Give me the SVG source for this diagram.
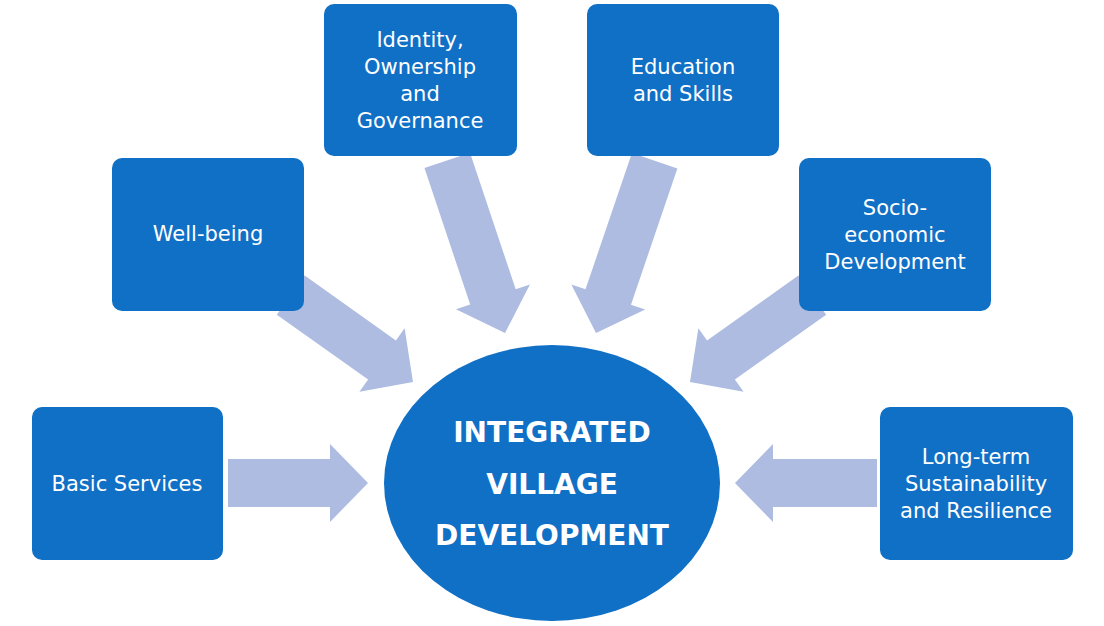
<svg xmlns="http://www.w3.org/2000/svg" width="1104" height="626" viewBox="0 0 1104 626">
<style>
.box{fill:#1070C6;}
.arr{fill:#ADBCE0;}
.t{font-family:"DejaVu Sans","Liberation Sans",sans-serif;font-size:21px;fill:#fff;text-anchor:middle;}
.c{font-family:"DejaVu Sans","Liberation Sans",sans-serif;font-size:28px;font-weight:bold;fill:#fff;text-anchor:middle;}
</style>
<defs>
<polygon id="a" points="-1,-24 -38,-24 -38,-39 0,0 -38,39 -38,24 -1,24"/>
</defs>
<rect width="1104" height="626" fill="#fff"/>
<g id="connectors" class="arr">
<polygon points="-140,-24 -38,-24 -38,-39 0,0 -38,39 -38,24 -140,24" transform="translate(368,483)"/>
<polygon points="-142,-24 -38,-24 -38,-39 0,0 -38,39 -38,24 -142,24" transform="translate(735,483) rotate(180)"/>
<polygon points="-150,-24 -38,-24 -38,-39 0,0 -38,39 -38,24 -150,24" transform="translate(413,382) rotate(35.4)"/>
<polygon points="-182,-24 -38,-24 -38,-39 0,0 -38,39 -38,24 -182,24" transform="translate(505,333) rotate(71.5)"/>
<polygon points="-182,-24 -38,-24 -38,-39 0,0 -38,39 -38,24 -182,24" transform="translate(596,333) rotate(108.8)"/>
<polygon points="-150,-24 -38,-24 -38,-39 0,0 -38,39 -38,24 -150,24" transform="translate(690,382) rotate(144.6)"/>
</g>
<g id="basic"><rect class="box" x="32" y="407" width="191" height="153" rx="10"/><text class="t" x="127" y="491">Basic Services</text></g>
<g id="wellbeing"><rect class="box" x="112" y="158" width="192" height="153" rx="10"/><text class="t" x="208" y="241">Well-being</text></g>
<g id="identity"><rect class="box" x="324" y="4" width="193" height="152" rx="10"/><text class="t" x="420" y="47">Identity,</text><text class="t" x="420" y="74">Ownership</text><text class="t" x="420" y="101">and</text><text class="t" x="420" y="128">Governance</text></g>
<g id="education"><rect class="box" x="587" y="4" width="192" height="152" rx="10"/><text class="t" x="683" y="74">Education</text><text class="t" x="683" y="101">and Skills</text></g>
<g id="socio"><rect class="box" x="799" y="158" width="192" height="153" rx="10"/><text class="t" x="895" y="215">Socio-</text><text class="t" x="895" y="242">economic</text><text class="t" x="895" y="269">Development</text></g>
<g id="longterm"><rect class="box" x="880" y="407" width="193" height="153" rx="10"/><text class="t" x="976" y="464">Long-term</text><text class="t" x="976" y="491">Sustainability</text><text class="t" x="976" y="518">and Resilience</text></g>
<g id="center"><ellipse class="box" cx="552" cy="483" rx="168" ry="138"/><text class="c" x="552" y="442">INTEGRATED</text><text class="c" x="552" y="494">VILLAGE</text><text class="c" x="552" y="545">DEVELOPMENT</text></g>
</svg>
